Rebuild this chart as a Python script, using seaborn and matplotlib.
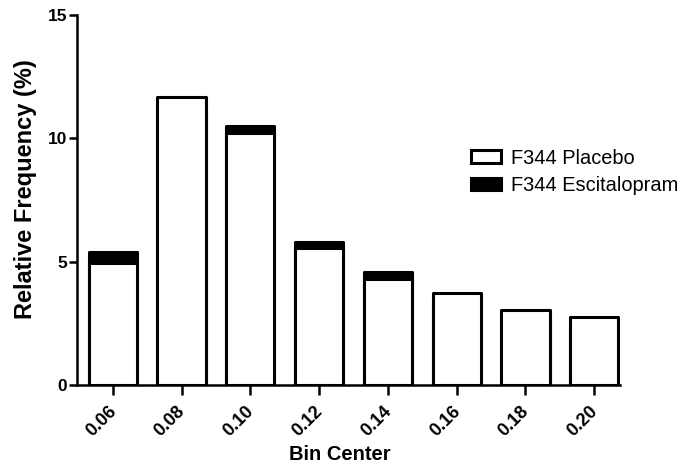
import matplotlib
matplotlib.use("Agg")
import matplotlib.pyplot as plt
from matplotlib.patches import Patch
from matplotlib.transforms import ScaledTranslation
import seaborn as sns
import pandas as pd

bin_centers = ["0.06", "0.08", "0.10", "0.12", "0.14", "0.16", "0.18", "0.20"]
placebo = [4.97, 11.68, 10.2, 5.55, 4.3, 3.72, 3.05, 2.75]
escitalopram = [5.4, 11.3, 10.5, 5.82, 4.6, 3.5, 2.9, 2.6]

sns.set_theme(style="ticks")
plt.rcParams["font.family"] = ["Liberation Sans", "DejaVu Sans"]
plt.rcParams.update({"text.color": "black", "axes.labelcolor": "black",
                     "xtick.color": "black", "ytick.color": "black",
                     "axes.edgecolor": "black"})

df = pd.DataFrame({"bin": bin_centers, "placebo": placebo, "esc": escitalopram})

fig = plt.figure(figsize=(6.81, 4.68), dpi=100)
ax = fig.add_axes([0.113, 0.177, 0.797, 0.791])

sns.barplot(data=df, x="bin", y="esc", order=bin_centers, color="black",
            saturation=1, width=0.7, edgecolor="black", linewidth=2.2, ax=ax)
sns.barplot(data=df, x="bin", y="placebo", order=bin_centers, color="white",
            saturation=1, width=0.7, edgecolor="black", linewidth=2.2, ax=ax)
for p in ax.patches:
    p.set_joinstyle("round")

ax.set_xlim(-0.52, 7.37)
ax.set_ylim(0, 15)
sns.despine(ax=ax)
for s in ["left", "bottom"]:
    ax.spines[s].set_linewidth(1.8)
    ax.spines[s].set_color("black")
ax.tick_params(axis="y", length=6, width=1.8, pad=1, colors="black")
ax.tick_params(axis="x", length=7, width=1.8, pad=6, colors="black")
ax.set_yticks([0, 5, 10, 15])
ax.set_yticklabels(["0", "5", "10", "15"], fontsize=12.5, fontweight="bold")
ax.set_xticks(range(len(bin_centers)))
ax.set_xticklabels(bin_centers, rotation=45, ha="right", rotation_mode="anchor",
                   fontsize=13, fontweight="bold")
offset = ScaledTranslation(-0.05, 0, fig.dpi_scale_trans)
for lbl in ax.get_xticklabels():
    lbl.set_transform(lbl.get_transform() + offset)

ax.set_xlabel("Bin Center", fontsize=14.5, fontweight="bold", color="black")
ax.set_ylabel("Relative Frequency (%)", fontsize=17, fontweight="bold", color="black")
ax.xaxis.set_label_coords(0.484, -0.162)
ax.yaxis.set_label_coords(-0.074, 0.53)

handles = [Patch(facecolor="white", edgecolor="black", linewidth=2.2, label="F344 Placebo"),
           Patch(facecolor="black", edgecolor="black", linewidth=2.2, label="F344 Escitalopram")]
ax.legend(handles=handles, loc="upper left", bbox_to_anchor=(0.726, 0.639),
          frameon=False, fontsize=14.4, handlelength=1.5, handleheight=0.6,
          labelspacing=0.42, handletextpad=0.5, borderpad=0, borderaxespad=0,
          labelcolor="black")

fig.savefig("out.png", dpi=100)
